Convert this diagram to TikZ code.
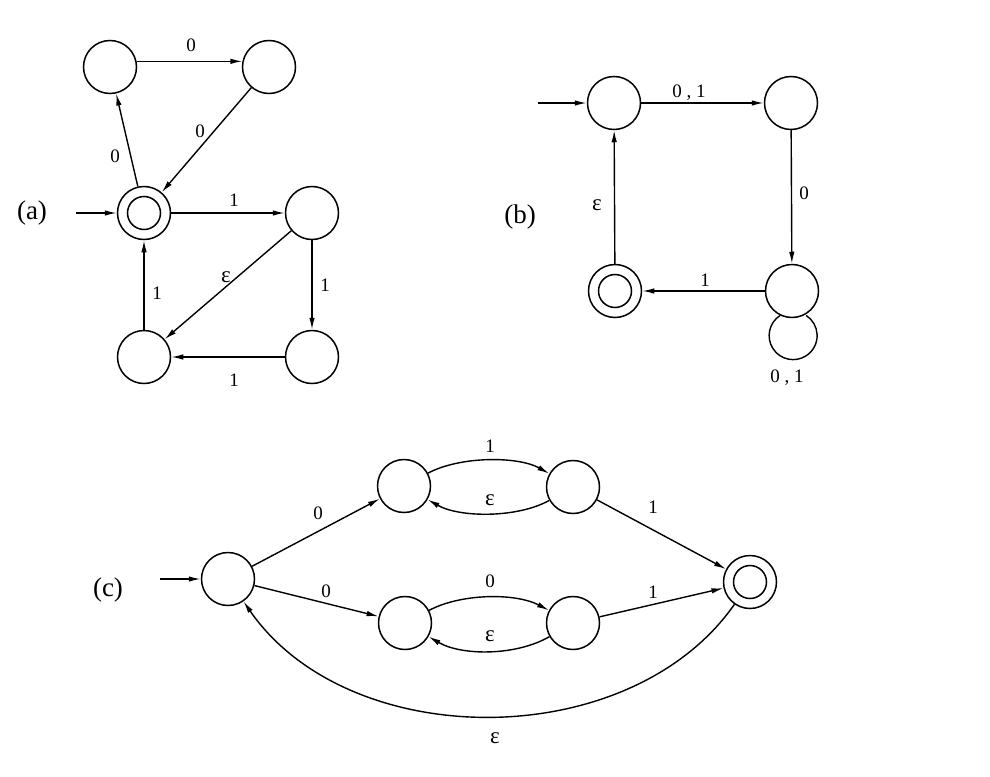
\documentclass[tikz,border=0pt]{standalone}
\usepackage{fontspec}
\setmainfont{Liberation Serif}
\usetikzlibrary{arrows.meta}
\begin{document}
\begin{tikzpicture}[x=1pt,y=-1pt,
  stnode/.style={circle,draw,line width=1.5pt,minimum size=53pt,inner sep=0pt},
  accnode/.style={stnode,path picture={\draw[line width=1.5pt] (path picture bounding box.center) circle[radius=16.5pt];}},
  arr/.style={line width=1.4pt,-{Latex[length=12pt,width=5.5pt]}},
  plain/.style={line width=1.4pt},
  lbl/.style={font=\fontsize{19}{19}\selectfont,inner sep=0pt},
  eps/.style={font=\fontsize{23}{23}\selectfont,inner sep=0pt},
  tag/.style={font=\fontsize{27}{27}\selectfont,inner sep=0pt}]
\useasboundingbox (0,0) rectangle (990,776);

% ---------- (a) ----------
\node[tag] (ta) at (32,213) {(a)};
\node[stnode] (a1) at (110,67) {};
\node[stnode] (a2) at (269,67) {};
\node[accnode] (a3) at (144,213) {};
\node[stnode] (a4) at (312,213) {};
\node[stnode] (a5) at (144,357) {};
\node[stnode] (a6) at (312,357) {};
\coordinate (as) at (76,213);
\draw[arr] (as) -- (a3);
\draw[arr] (a1.12) -- (a2.168);
\draw[arr] (a2) -- (a3);
\draw[arr] (a3) -- (a1);
\draw[arr] (a3) -- (a4);
\draw[arr] (a4) -- (a5);
\draw[arr] (a4) -- (a6);
\draw[arr] (a6) -- (a5);
\draw[arr] (a5) -- (a3);
\node[lbl] (la1) at (191,45) {0};
\node[lbl] (la2) at (200,131) {0};
\node[lbl] (la3) at (115,156) {0};
\node[lbl] (la4) at (234,200) {1};
\node[eps] (la5) at (226,277) {ε};
\node[lbl] (la6) at (325,285) {1};
\node[lbl] (la7) at (157,293) {1};
\node[lbl] (la8) at (234,380) {1};

% ---------- (b) ----------
\node[tag] (tb) at (520,217) {(b)};
\node[stnode] (b1) at (614,103) {};
\node[stnode] (b2) at (791,103) {};
\node[stnode] (b3) at (792,291) {};
\node[accnode] (b4) at (615,291) {};
\coordinate (bs) at (538,103);
\draw[arr] (bs) -- (b1);
\draw[arr] (b1) -- (b2);
\draw[arr] (b2) -- (b3);
\draw[arr] (b3) -- (b4);
\draw[arr] (b4) -- (b1);
\draw[plain] (b3.-116) arc[start angle=237,end angle=-57,radius=24];
\node[lbl] (lb1) at (689,93) {0 , 1};
\node[lbl] (lb2) at (804,193) {0};
\node[eps] (lb3) at (597,205) {ε};
\node[lbl] (lb4) at (705,280) {1};
\node[lbl] (lb5) at (787,378) {0 , 1};

% ---------- (c) ----------
\node[tag] (tc) at (108,590) {(c)};
\node[stnode] (c0) at (228,579) {};
\node[stnode] (c1) at (404,486) {};
\node[stnode] (c2) at (573,487) {};
\node[stnode] (c3) at (405,623) {};
\node[stnode] (c4) at (573,623) {};
\node[accnode] (c5) at (750,582) {};
\coordinate (cs) at (160,579);
\draw[arr] (cs) -- (c0);
\draw[arr] (c0) -- (c1);
\draw[arr] (c0) -- (c3);
\draw[arr] (c2) -- (c5);
\draw[arr] (c4) -- (c5);
\draw[arr] (c1) .. controls (460,456) and (518,456) .. (c2);
\draw[arr] (c2) .. controls (518,518) and (460,518) .. (c1);
\draw[arr] (c3) .. controls (462,593) and (516,593) .. (c4);
\draw[arr] (c4) .. controls (516,656) and (462,656) .. (c3);
\draw[arr] (c5) .. controls (630,754) and (349,754) .. (c0);
\node[lbl] (lc1) at (318,513) {0};
\node[lbl] (lc2) at (326,591) {0};
\node[lbl] (lc3) at (490,446) {1};
\node[eps] (lc4) at (490,500) {ε};
\node[lbl] (lc5) at (490,581) {0};
\node[eps] (lc6) at (490,636) {ε};
\node[lbl] (lc7) at (653,507) {1};
\node[lbl] (lc8) at (653,592) {1};
\node[eps] (lc9) at (495,738) {ε};
\end{tikzpicture}
\end{document}
